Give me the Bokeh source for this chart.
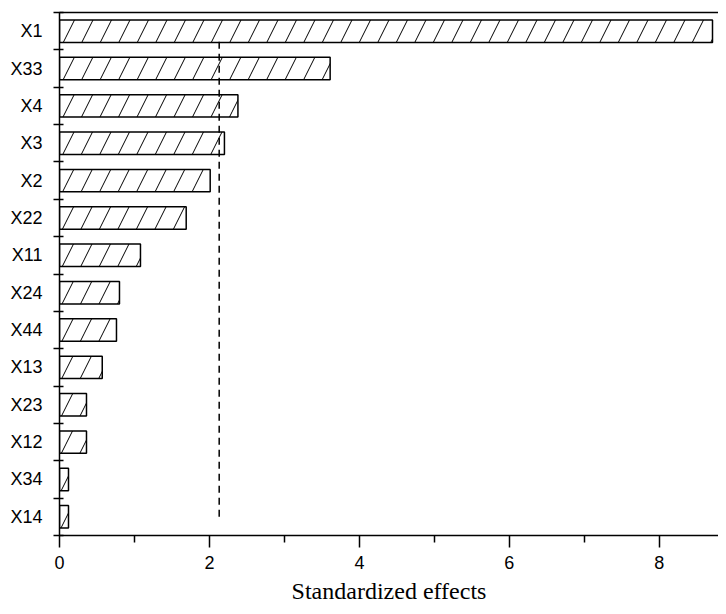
from bokeh.plotting import figure
from bokeh.models import FixedTicker, LinearAxis, Range1d, ColumnDataSource
from bokeh.embed import file_html
from bokeh.resources import INLINE

factors = ["X1", "X33", "X4", "X3", "X2", "X22", "X11", "X24", "X44", "X13", "X23", "X12", "X34", "X14"]
effects = [8.71, 3.61, 2.38, 2.20, 2.01, 1.69, 1.08, 0.80, 0.76, 0.57, 0.36, 0.36, 0.12, 0.12]
critical_value = 2.13
critical_span = [0.5, 13.3]
x_ticks = [0, 2, 4, 6, 8]
x_minor = [1, 3, 5, 7]

n = len(factors)
ypos = [n - 0.5 - i for i in range(n)]
src = ColumnDataSource(data=dict(y=ypos, right=effects, name=factors))

p = figure(width=718, height=606, output_backend="svg", toolbar_location=None,
           x_range=Range1d(0, 8.79), y_range=Range1d(0, n),
           min_border_left=59, min_border_right=0, min_border_top=12, min_border_bottom=60)
p.grid.visible = False
p.outline_line_color = None
p.background_fill_color = "white"

p.hbar(y="y", left=0, right="right", height=0.6, source=src,
       fill_color="white", line_color="black", line_width=1.5,
       hatch_pattern="/", hatch_color="black", hatch_weight=1, hatch_scale=37)

p.line(x=[critical_value, critical_value], y=critical_span, line_color="black",
       line_width=1.5, line_dash="7 5")

# x axis
xa = p.xaxis[0]
xa.ticker = FixedTicker(ticks=x_ticks, minor_ticks=x_minor)
xa.axis_line_width = 1.5
xa.major_tick_line_width = 1.5
xa.minor_tick_line_width = 1.5
xa.major_tick_in = 0
xa.major_tick_out = 12
xa.minor_tick_in = 0
xa.minor_tick_out = 7
xa.major_label_text_font = "Liberation Sans"
xa.major_label_text_font_size = "18px"
xa.major_label_text_color = "black"
xa.major_label_standoff = 8
xa.axis_label = "Standardized effects"
xa.axis_label_text_font = "Liberation Serif"
xa.axis_label_text_font_style = "normal"
xa.axis_label_text_font_size = "24px"
xa.axis_label_text_color = "black"
xa.axis_label_standoff = 6

# y axis
ya = p.yaxis[0]
ya.ticker = FixedTicker(ticks=ypos, minor_ticks=list(range(n + 1)))
ya.major_label_overrides = {y: f for y, f in zip(ypos, factors)}
ya.axis_line_width = 1.5
ya.major_tick_in = 0
ya.major_tick_out = 0
ya.minor_tick_in = 4
ya.minor_tick_out = 6
ya.minor_tick_line_width = 1.5
ya.major_label_text_font = "Liberation Sans"
ya.major_label_text_font_size = "18px"
ya.major_label_text_color = "black"
ya.major_label_standoff = 11

# top border line
top = LinearAxis(ticker=FixedTicker(ticks=[]), axis_line_width=1.5,
                 major_label_text_font_size="0px", major_tick_in=0, major_tick_out=0,
                 minor_tick_in=0, minor_tick_out=0)
p.add_layout(top, "above")

open("out.html", "w").write(file_html(p, INLINE))
